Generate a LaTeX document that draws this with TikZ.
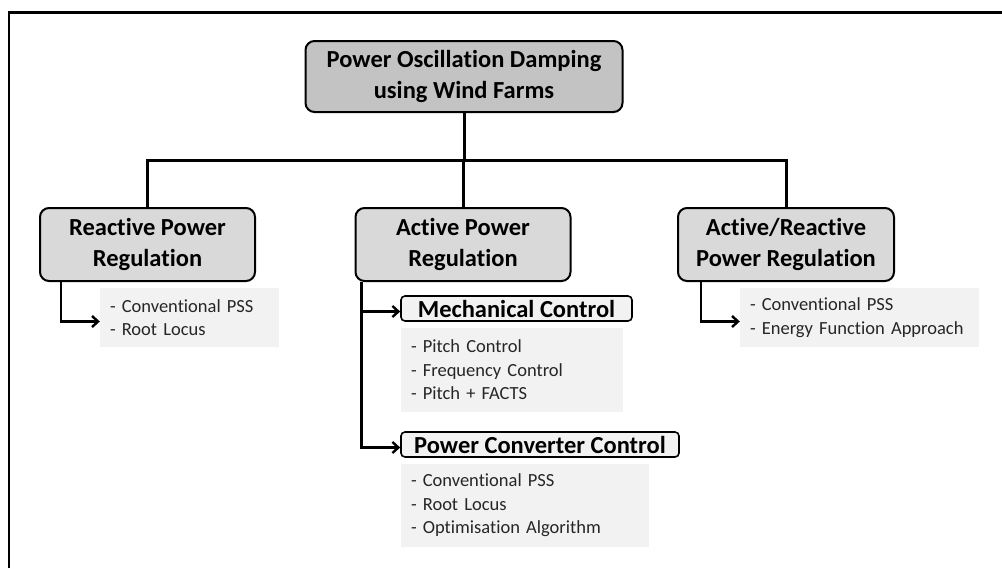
\documentclass[tikz,border=0pt]{standalone}
\usepackage{fontspec}
\setmainfont{Carlito}[Ligatures={NoCommon}]
\usetikzlibrary{arrows.meta}
\definecolor{topfill}{HTML}{C3C3C3}
\definecolor{midfill}{HTML}{D9D9D9}
\definecolor{listfill}{HTML}{F2F2F2}
\definecolor{txt}{HTML}{262626}
\tikzset{
  x=1pt,y=-1pt,
  headbox/.style={draw=black,line width=2pt,rounded corners=9pt,align=center,
    font=\fontsize{24.5}{30.5}\selectfont\bfseries,inner sep=0pt},
  subbox/.style={draw=black,line width=1.6pt,rounded corners=4pt,fill=listfill,
    font=\fontsize{24.5}{26}\selectfont\bfseries,inner sep=0pt,minimum height=25pt},
  listbox/.style={fill=listfill,draw=none,align=left,inner xsep=10pt,inner ysep=0pt,
    font=\fontsize{18.5}{23.5}\selectfont,text=txt},
  conn/.style={line width=3pt},
  arr/.style={line width=2.6pt,-{Straight Barb[length=6pt,width=11pt,line width=2.4pt]}},
}
\begin{document}
\begin{tikzpicture}
\useasboundingbox (0,0) rectangle (1002,568);
% frame (only top and left visible)
\draw[line width=2.5pt] (9,568) -- (9,12.5) -- (1002,12.5);

\node[headbox,fill=topfill,minimum width=317pt,minimum height=71pt] (top) at (464,76.5)
  {Power Oscillation Damping\\using Wind Farms};
\node[headbox,fill=midfill,minimum width=215pt,minimum height=73pt] (react) at (147.5,244.5)
  {Reactive Power\\Regulation};
\node[headbox,fill=midfill,minimum width=215pt,minimum height=73pt] (act) at (463,244.5)
  {Active Power\\Regulation};
\node[headbox,fill=midfill,minimum width=216pt,minimum height=73pt] (ar) at (786,244.5)
  {Active/Reactive\\Power Regulation};

\coordinate (bus) at (464,160);
\draw[conn] (top.south) -- (top.south |- bus);
\draw[conn] (react.north) -- (react.north |- bus) -- (ar.north |- bus) -- (ar.north);
\draw[conn] (act.north) -- (act.north |- bus);

% reactive list
\node[listbox,text width=159pt,minimum height=59pt] (l1) at (189.5,317.5)
  {- Conventional PSS\\- Root Locus};
\draw[arr] ([xshift=22pt]react.south west) |- ([yshift=-4pt]l1.west);

% active/reactive list
\node[listbox,text width=219pt,minimum height=59pt] (l3) at (859.5,317.5)
  {- Conventional PSS\\- Energy Function Approach};
\draw[arr] ([xshift=24pt]ar.south west) |- ([yshift=-4pt]l3.west);

% active power branches
\node[subbox,minimum width=231pt] (mech) at (516.5,308.5) {Mechanical Control};
\node[listbox,text width=202pt,minimum height=84pt] (l2a) at (512,370)
  {- Pitch Control\\- Frequency Control\\- Pitch + FACTS};
\node[subbox,minimum width=278pt] (pcc) at (540,444.5) {Power Converter Control};
\node[listbox,text width=228pt,minimum height=83pt] (l2b) at (525,505.5)
  {- Conventional PSS\\- Root Locus\\- Optimisation Algorithm};

\coordinate (astart) at ([xshift=7pt]act.south west);
\draw[arr] (astart) |- ([yshift=-3pt]mech.west);
\draw[arr] (astart) |- ([yshift=-3pt]pcc.west);
\end{tikzpicture}
\end{document}
